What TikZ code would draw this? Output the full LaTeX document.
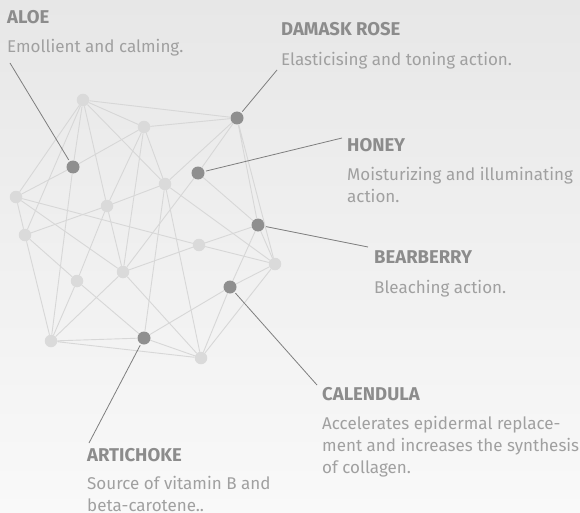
\documentclass[tikz,border=0pt]{standalone}
\usepackage{fontspec}
\setmainfont{Fira Sans}
\usepackage{tikz}

\definecolor{bgtop}{HTML}{E7E7E7}
\definecolor{bgmid}{HTML}{EAEAEA}
\definecolor{bgbottom}{HTML}{F9F9F9}
\definecolor{linecol}{HTML}{D7D7D7}
\definecolor{spotcol}{HTML}{DADADA}
\definecolor{keycol}{HTML}{8F8F8F}
\definecolor{leadcol}{HTML}{7E7E7E}
\definecolor{headcol}{HTML}{8C8C8C}
\definecolor{bodycol}{HTML}{A0A0A0}

\begin{document}
\begin{tikzpicture}[x=1pt,y=-1pt,
  spot/.style={circle,fill=spotcol,minimum size=12.5pt,inner sep=0pt},
  keyspot/.style={circle,fill=keycol,minimum size=13pt,inner sep=0pt},
  netline/.style={linecol,line width=0.9pt},
  callout/.style={leadcol,line width=0.8pt,shorten <=1.5pt},
  labhead/.style={anchor=base west,inner sep=0pt,text=headcol,font=\bfseries\fontsize{18.5}{22}\selectfont},
  labtext/.style={anchor=base west,inner sep=0pt,text=bodycol,align=left,font=\fontsize{17}{22}\selectfont}]
\useasboundingbox (0,0) rectangle (580,513);
\shade[top color=bgtop,middle color=bgmid,bottom color=bgbottom] (0,0) rectangle (580,513);

% grey dots
\node[spot] (g1) at (83,100) {};
\node[spot] (g2) at (144,127) {};
\node[spot] (g3) at (16,197) {};
\node[spot] (g4) at (25,235) {};
\node[spot] (g5) at (107,206) {};
\node[spot] (g6) at (165,184) {};
\node[spot] (g7) at (199,245) {};
\node[spot] (g8) at (123,272) {};
\node[spot] (g9) at (77,281) {};
\node[spot] (g10) at (275,264) {};
\node[spot] (g11) at (51,341) {};
\node[spot] (g12) at (201,358) {};

% ingredients
\node[keyspot] (aloe) at (73,167) {};
\node[keyspot] (rose) at (237,118) {};
\node[keyspot] (honey) at (198,173) {};
\node[keyspot] (bearberry) at (258,225) {};
\node[keyspot] (calendula) at (230,287) {};
\node[keyspot] (artichoke) at (144,338) {};

\draw[netline] (g1) -- (rose) (g1) -- (g2) (g1) -- (g3) (g1) -- (g4)
  (g1) -- (aloe) (aloe) -- (g11) (g1) -- (g5) (g1) -- (g6);
\draw[netline] (g2) -- (rose) (g2) -- (aloe) (g2) -- (g5) (g2) -- (g8) (g2) -- (g6);
\draw[netline] (rose) -- (honey) (rose) -- (g6) (rose) -- (bearberry) (rose) -- (g10);
\draw[netline] (honey) -- (bearberry) (honey) -- (g8);
\draw[netline] (g6) -- (g10) (g6) -- (g5) (g6) -- (g12) (g6) -- (artichoke);
\draw[netline] (g3) -- (g4) (g3) -- (aloe) (g3) -- (g7) (g3) -- (g8);
\draw[netline] (g4) -- (g5) (g4) -- (g9) (g4) -- (g11);
\draw[netline] (g5) -- (g8) (g5) -- (g9);
\draw[netline] (g9) -- (g11) (g9) -- (artichoke);
\draw[netline] (g11) -- (g8) (g11) -- (artichoke) (g11) -- (g12);
\draw[netline] (g8) -- (g7) (g8) -- (g12);
\draw[netline] (g7) -- (bearberry) (g7) -- (g10);
\draw[netline] (bearberry) -- (g10) (bearberry) -- (calendula);
\draw[netline] (calendula) -- (g10) (calendula) -- (artichoke) (calendula) -- (g12);
\draw[netline] (g10) -- (g12) (artichoke) -- (g12);

% labels (multi-line texts sit on their last baseline)
\node[labhead] (aloehead) at (7,24) {ALOE};
\node[labtext] (aloetext) at (7,53) {Emollient and calming.};
\node[labhead] (rosehead) at (281,36) {DAMASK ROSE};
\node[labtext] (rosetext) at (281,66) {Elasticising and toning action.};
\node[labhead] (honeyhead) at (347,152) {HONEY};
\node[labtext] (honeytext) at (347,202) {Moisturizing and illuminating\\action.};
\node[labhead] (bearhead) at (374,263) {BEARBERRY};
\node[labtext] (beartext) at (374,293) {Bleaching action.};
\node[labhead] (calhead) at (322,400) {CALENDULA};
\node[labtext] (caltext) at (322,473.5) {Accelerates epidermal replace-\\ment and increases the synthesis\\of collagen.};
\node[labhead] (artihead) at (87,461) {ARTICHOKE};
\node[labtext] (artitext) at (87,511) {Source of vitamin B and\\beta-carotene..};

\coordinate (aloeend) at (10,63);
\coordinate (roseend) at (277,70);
\coordinate (honeyend) at (342,138);
\coordinate (bearend) at (368,247);
\coordinate (calend) at (317,385);
\coordinate (artiend) at (89,443);
\draw[callout] (aloe) -- (aloeend);
\draw[callout] (rose) -- (roseend);
\draw[callout] (honey) -- (honeyend);
\draw[callout] (bearberry) -- (bearend);
\draw[callout] (calendula) -- (calend);
\draw[callout] (artichoke) -- (artiend);
\end{tikzpicture}
\end{document}
